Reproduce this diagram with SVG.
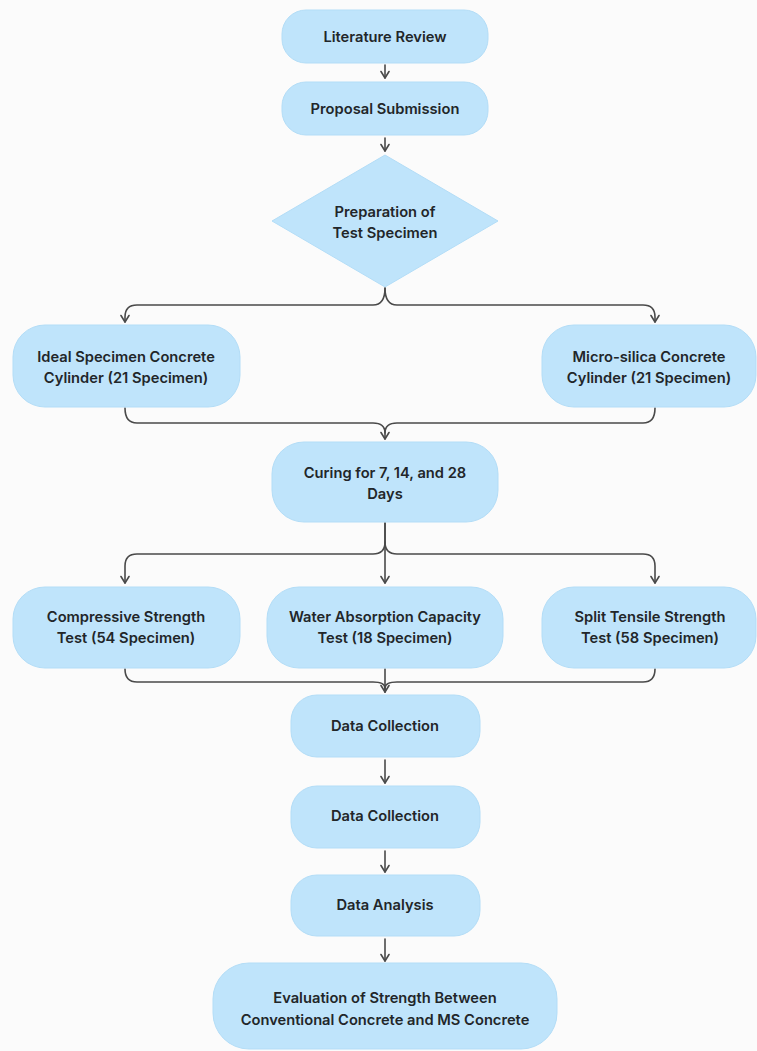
<svg xmlns="http://www.w3.org/2000/svg" width="757" height="1051" viewBox="0 0 757 1051">
<style>
.box{fill:#BFE4FB;stroke:#B3DDF7;stroke-width:1}
.t{font-family:Inter,"Liberation Sans",sans-serif;font-size:14.7px;font-weight:600;fill:#222629;text-anchor:middle}
.c{fill:none;stroke:#4a4a4a;stroke-width:1.6;stroke-linecap:round;stroke-linejoin:round}
</style>
<defs>
<marker id="ah" viewBox="0 0 10 10" refX="9" refY="5" markerWidth="10" markerHeight="10" markerUnits="userSpaceOnUse" orient="auto">
<path d="M2.5,1 L9,5 L2.5,9" fill="none" stroke="#4a4a4a" stroke-width="1.6" stroke-linecap="round" stroke-linejoin="round"/>
</marker>
</defs>
<rect width="757" height="1051" fill="#fbfbfb"/>
<g id="connectors">
<path class="c" d="M385,65 L385,78" marker-end="url(#ah)"/>
<path class="c" d="M385,138 L385,151" marker-end="url(#ah)"/>
<path class="c" d="M385,288 Q385,305 373,305 L137,305 Q125,305 125,317 L125,322" marker-end="url(#ah)"/>
<path class="c" d="M385,288 Q385,305 397,305 L643,305 Q655,305 655,317 L655,322" marker-end="url(#ah)"/>
<path class="c" d="M125,408 Q125,423 137,423 L373,423 Q385,423 385,433 L385,439" marker-end="url(#ah)"/>
<path class="c" d="M655,408 Q655,423 643,423 L397,423 Q385,423 385,433"/>
<path class="c" d="M385,523 L385,542 Q385,554 373,554 L137,554 Q125,554 125,566 L125,583" marker-end="url(#ah)"/>
<path class="c" d="M385,542 Q385,554 397,554 L643,554 Q655,554 655,566 L655,583" marker-end="url(#ah)"/>
<path class="c" d="M385,523 L385,583" marker-end="url(#ah)"/>
<path class="c" d="M125,669 Q125,682 137,682 L373,682 Q385,682 385,688 L385,692" marker-end="url(#ah)"/>
<path class="c" d="M655,669 Q655,682 643,682 L397,682 Q385,682 385,688"/>
<path class="c" d="M385,669 L385,692"/>
<path class="c" d="M385,760 L385,783" marker-end="url(#ah)"/>
<path class="c" d="M385,851 L385,872" marker-end="url(#ah)"/>
<path class="c" d="M385,939 L385,961" marker-end="url(#ah)"/>
</g>
<g id="n-literature">
<rect class="box" x="282" y="10" width="206" height="53" rx="24"/>
<text class="t" x="385" y="42">Literature Review</text>
</g>
<g id="n-proposal">
<rect class="box" x="282" y="82" width="206" height="53" rx="24"/>
<text class="t" x="385" y="114">Proposal Submission</text>
</g>
<g id="n-preparation">
<polygon class="box" points="385,155 498,221 385,287 272,221" stroke-linejoin="round"/>
<text class="t" x="385" y="217">Preparation of</text>
<text class="t" x="385" y="238">Test Specimen</text>
</g>
<g id="n-ideal">
<rect class="box" x="13" y="325" width="227" height="82" rx="32"/>
<text class="t" x="126" y="362">Ideal Specimen Concrete</text>
<text class="t" x="126" y="383">Cylinder (21 Specimen)</text>
</g>
<g id="n-microsilica">
<rect class="box" x="542" y="325" width="214" height="82" rx="32"/>
<text class="t" x="649" y="362">Micro-silica Concrete</text>
<text class="t" x="649" y="383">Cylinder (21 Specimen)</text>
</g>
<g id="n-curing">
<rect class="box" x="272" y="442" width="226" height="80" rx="32"/>
<text class="t" x="385" y="478">Curing for 7, 14, and 28</text>
<text class="t" x="385" y="499">Days</text>
</g>
<g id="n-compressive">
<rect class="box" x="13" y="587" width="227" height="81" rx="32"/>
<text class="t" x="126" y="622">Compressive Strength</text>
<text class="t" x="126" y="643">Test (54 Specimen)</text>
</g>
<g id="n-water">
<rect class="box" x="267" y="587" width="236" height="81" rx="32"/>
<text class="t" x="385" y="622">Water Absorption Capacity</text>
<text class="t" x="385" y="643">Test (18 Specimen)</text>
</g>
<g id="n-split">
<rect class="box" x="542" y="587" width="214" height="81" rx="32"/>
<text class="t" x="650" y="622">Split Tensile Strength</text>
<text class="t" x="650" y="643">Test (58 Specimen)</text>
</g>
<g id="n-data1">
<rect class="box" x="291" y="695" width="189" height="62" rx="26"/>
<text class="t" x="385" y="731">Data Collection</text>
</g>
<g id="n-data2">
<rect class="box" x="291" y="786" width="189" height="62" rx="26"/>
<text class="t" x="385" y="821">Data Collection</text>
</g>
<g id="n-analysis">
<rect class="box" x="291" y="875" width="189" height="61" rx="26"/>
<text class="t" x="385" y="910">Data Analysis</text>
</g>
<g id="n-evaluation">
<rect class="box" x="213" y="963" width="344" height="86" rx="36"/>
<text class="t" x="385" y="1003">Evaluation of Strength Between</text>
<text class="t" x="385" y="1025">Conventional Concrete and MS Concrete</text>
</g>
</svg>
